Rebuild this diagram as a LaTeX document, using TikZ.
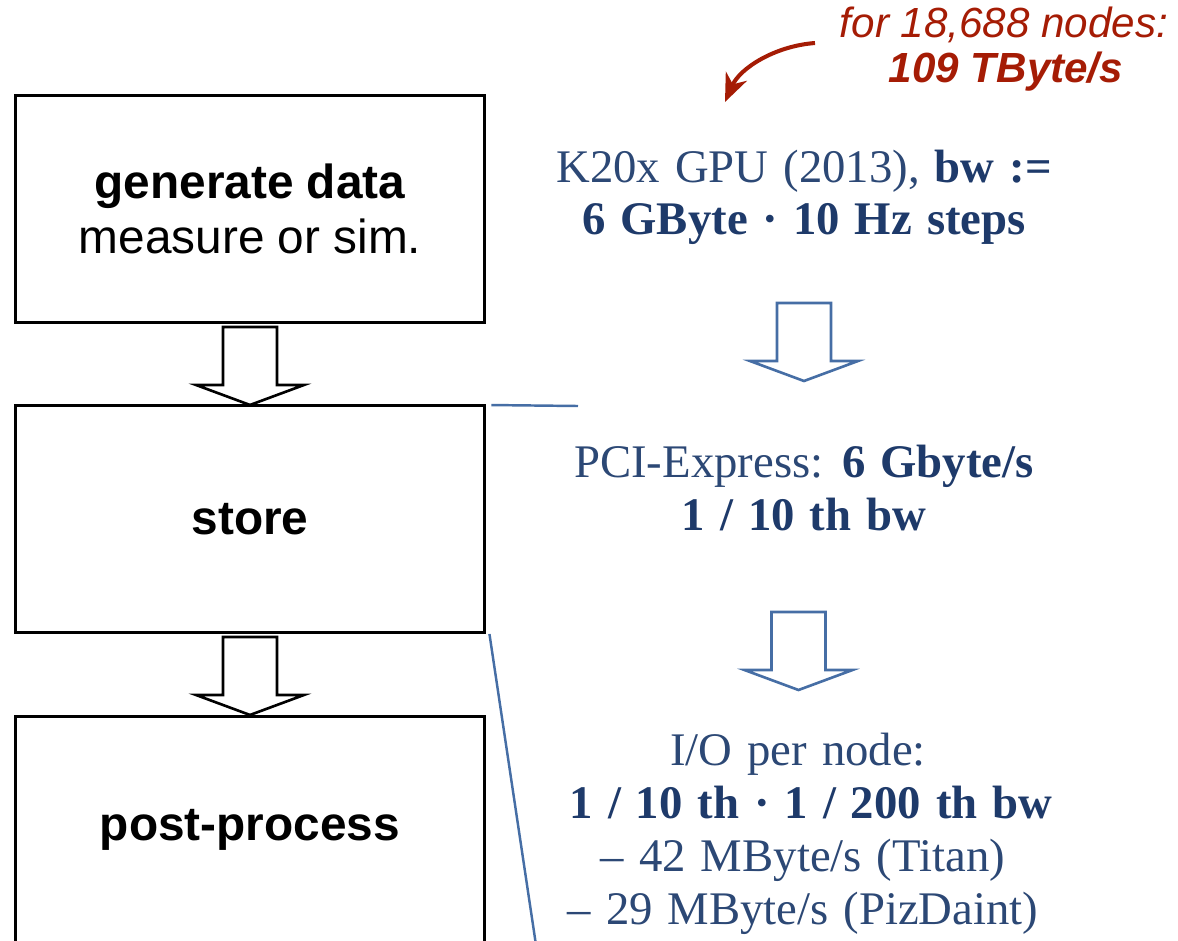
\documentclass[tikz,border=0pt]{standalone}
\usepackage{fontspec}
\setmainfont{Liberation Serif}
\newfontfamily\sansf{Liberation Sans}
\usetikzlibrary{arrows.meta,calc}

\definecolor{infoblue}{RGB}{44,72,117}
\definecolor{infobold}{RGB}{30,58,106}
\definecolor{arrowblue}{RGB}{70,110,165}
\definecolor{notered}{RGB}{165,28,5}

\newcommand\infofont{\fontsize{26.6}{30}\selectfont\spaceskip=0.32em plus 0.1em\relax}

\tikzset{
  stagebox/.style={draw=black, line width=1.7pt, minimum width=9.4cm, minimum height=4.54cm,
    inner sep=0pt, align=center, font=\sansf\fontsize{27.2}{31.2}\selectfont},
  infoline/.style={anchor=base, inner sep=0pt, text=infoblue, font=\infofont},
  infostrong/.style={infoline, text=infobold, font=\infofont\bfseries},
  noteline/.style={anchor=base, inner sep=0pt, text=notered, font=\sansf\fontsize{24}{28}\selectfont},
  blockarrow/.pic={
    \draw[line width=1.5pt, line join=miter]
      (-27,0) -- (-27,58) -- (-54,58) -- (0,78) -- (54,58) -- (27,58) -- (27,0) -- cycle;
  },
}

\begin{document}
\begin{tikzpicture}[x=0.02cm, y=-0.02cm]
\useasboundingbox (0,0) rectangle (1178,941);
\begin{scope}
\clip (0,0) rectangle (1178,941);

% processing stages
\node[stagebox] (gen) at (250,209) {\textbf{generate data}\\measure or sim.};
\node[stagebox] (store) at (250,519) {\textbf{store}};
\node[stagebox] (post) at (250,830) {\textbf{post-process}};

% hollow block arrows between the stages
\pic[black] at ($(gen.south)+(0,3)$) {blockarrow};
\pic[black] at ($(store.south)+(0,3)$) {blockarrow};

% bracket lines from the store stage to the throughput notes
\coordinate (brtop) at (578,406);
\coordinate (brbot) at (536,945);
\draw[arrowblue, line width=1.4pt] ($(store.north east)+(5,1)$) -- (brtop);
\draw[arrowblue, line width=1.4pt] ($(store.south east)+(3,0)$) -- (brbot);
\end{scope}

% bandwidth notes
\node[infoline] (gpu1) at (804,182) {K20x GPU (2013), \textcolor{infobold}{\textbf{bw :=}}};
\node[infostrong] (gpu2) at (804,234) {6 GByte · 10 Hz steps};

\pic[arrowblue] at (804,303) {blockarrow};

\node[infoline] (pci1) at (804,477) {PCI-Express: \textcolor{infobold}{\textbf{6 Gbyte/s}}};
\node[infostrong] (pci2) at (804,530) {1 / 10 th bw};

\pic[arrowblue] at (798.5,612) {blockarrow};

\node[infoline] (io1) at (798,765) {I/O per node:};
\node[infostrong] (io2) at (811,818) {1 / 10 th · 1 / 200 th bw};
\node[infoline] (io3) at (803,871) {– 42 MByte/s (Titan)};
\node[infoline] (io4) at (803,924) {– 29 MByte/s (PizDaint)};

% aggregate note with curved pointer
\node[noteline] (agg1) at (1004,37) {\itshape for 18,688 nodes:};
\node[noteline] (agg2) at (1006,82) {\bfseries\itshape 109 TByte/s};
\coordinate (ptrstart) at (815,43);
\coordinate (ptrend) at (725,102);
\draw[notered, line width=2.3pt, -{Stealth[length=16pt, width=13pt, inset=5pt]}]
  (ptrstart) .. controls (775,46) and (740,68) .. (ptrend);
\end{tikzpicture}
\end{document}
